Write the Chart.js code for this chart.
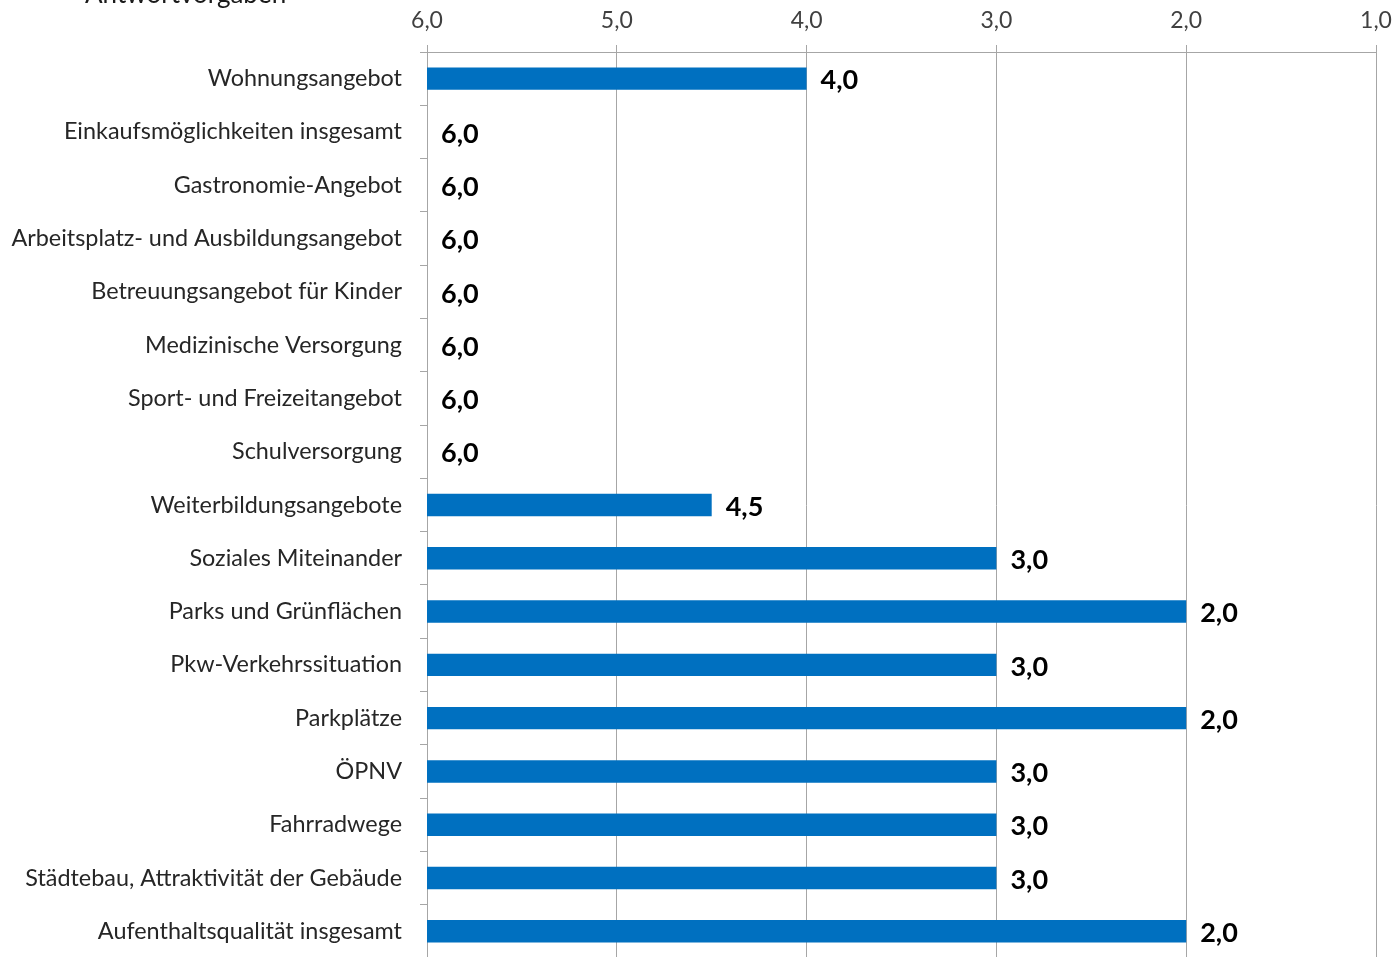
<!DOCTYPE html>
<html><head><meta charset="utf-8">
<script src="https://cdn.jsdelivr.net/npm/chart.js@4"></script>
<style>
html,body{margin:0;padding:0;overflow:hidden;background:#fff;width:1397px;height:957px}
canvas{display:block}
</style></head>
<body>
<canvas id="c" width="1397" height="990"></canvas>
<script>
const categories = [
  "Wohnungsangebot",
  "Einkaufsmöglichkeiten insgesamt",
  "Gastronomie-Angebot",
  "Arbeitsplatz- und Ausbildungsangebot",
  "Betreuungsangebot für Kinder",
  "Medizinische Versorgung",
  "Sport- und Freizeitangebot",
  "Schulversorgung",
  "Weiterbildungsangebote",
  "Soziales Miteinander",
  "Parks und Grünflächen",
  "Pkw-Verkehrssituation",
  "Parkplätze",
  "ÖPNV",
  "Fahrradwege",
  "Städtebau, Attraktivität der Gebäude",
  "Aufenthaltsqualität insgesamt"
];
const values = [4.0, 6.0, 6.0, 6.0, 6.0, 6.0, 6.0, 6.0, 4.5, 3.0, 2.0, 3.0, 2.0, 3.0, 3.0, 3.0, 2.0];
const tickValues = [6, 5, 4, 3, 2, 1];
const axisTitle = "Antwortvorgaben";
const baseValue = 6;

const fmt = v => Number(v).toFixed(1).replace('.', ',');
const FONT = 'Lato, "Open Sans", sans-serif';

const labelPlugin = {
  id: 'valueLabels',
  afterDatasetsDraw(chart) {
    const ctx = chart.ctx;
    const meta = chart.getDatasetMeta(0);
    const xs = chart.scales.x;
    ctx.save();
    ctx.font = 'bold 27px ' + FONT;
    ctx.fillStyle = '#000';
    ctx.textAlign = 'left';
    ctx.textBaseline = 'middle';
    meta.data.forEach((el, i) => {
      ctx.fillText(fmt(values[i]), xs.getPixelForValue(values[i]) + 14, el.y + 2);
    });
    ctx.restore();
  }
};
const titlePlugin = {
  id: 'cutTitle',
  afterDraw(chart) {
    const ctx = chart.ctx;
    ctx.save();
    ctx.font = '26px ' + FONT;
    ctx.fillStyle = '#1a1a1a';
    ctx.textAlign = 'left';
    ctx.textBaseline = 'alphabetic';
    ctx.fillText(axisTitle, 85, 3);
    ctx.restore();
  }
};

new Chart(document.getElementById('c'), {
  type: 'bar',
  data: {
    labels: categories,
    datasets: [{
      data: values.map(v => [baseValue, v]),
      backgroundColor: '#0070C0',
      borderWidth: 0,
      categoryPercentage: 1,
      barPercentage: 0.42
    }]
  },
  options: {
    indexAxis: 'y',
    responsive: false,
    animation: false,
    layout: { padding: { top: 0, right: 21, bottom: 4, left: 0 } },
    plugins: { legend: { display: false }, tooltip: { enabled: false }, title: { display: false } },
    scales: {
      x: {
        type: 'linear',
        position: 'top',
        reverse: true,
        min: 1, max: 6,
        afterBuildTicks: s => { s.ticks = tickValues.map(v => ({ value: v })); },
        afterFit: s => { s.height = 52; s.paddingLeft = 0; s.paddingRight = 0; },
        ticks: { callback: v => fmt(v), font: { family: FONT, size: 23 }, color: '#404040', padding: 11, maxRotation: 0 },
        grid: { color: '#a6a6a6', lineWidth: 1, tickLength: 7 },
        border: { color: '#a6a6a6' }
      },
      y: {
        afterFit: s => { s.width = 427; },
        ticks: { font: { family: FONT, size: 23.4 }, color: '#262626', padding: 18, autoSkip: false },
        grid: { offset: true, drawOnChartArea: false, color: '#a6a6a6', tickLength: 7 },
        border: { color: '#a6a6a6' }
      }
    }
  },
  plugins: [labelPlugin, titlePlugin]
});
</script>
</body></html>
